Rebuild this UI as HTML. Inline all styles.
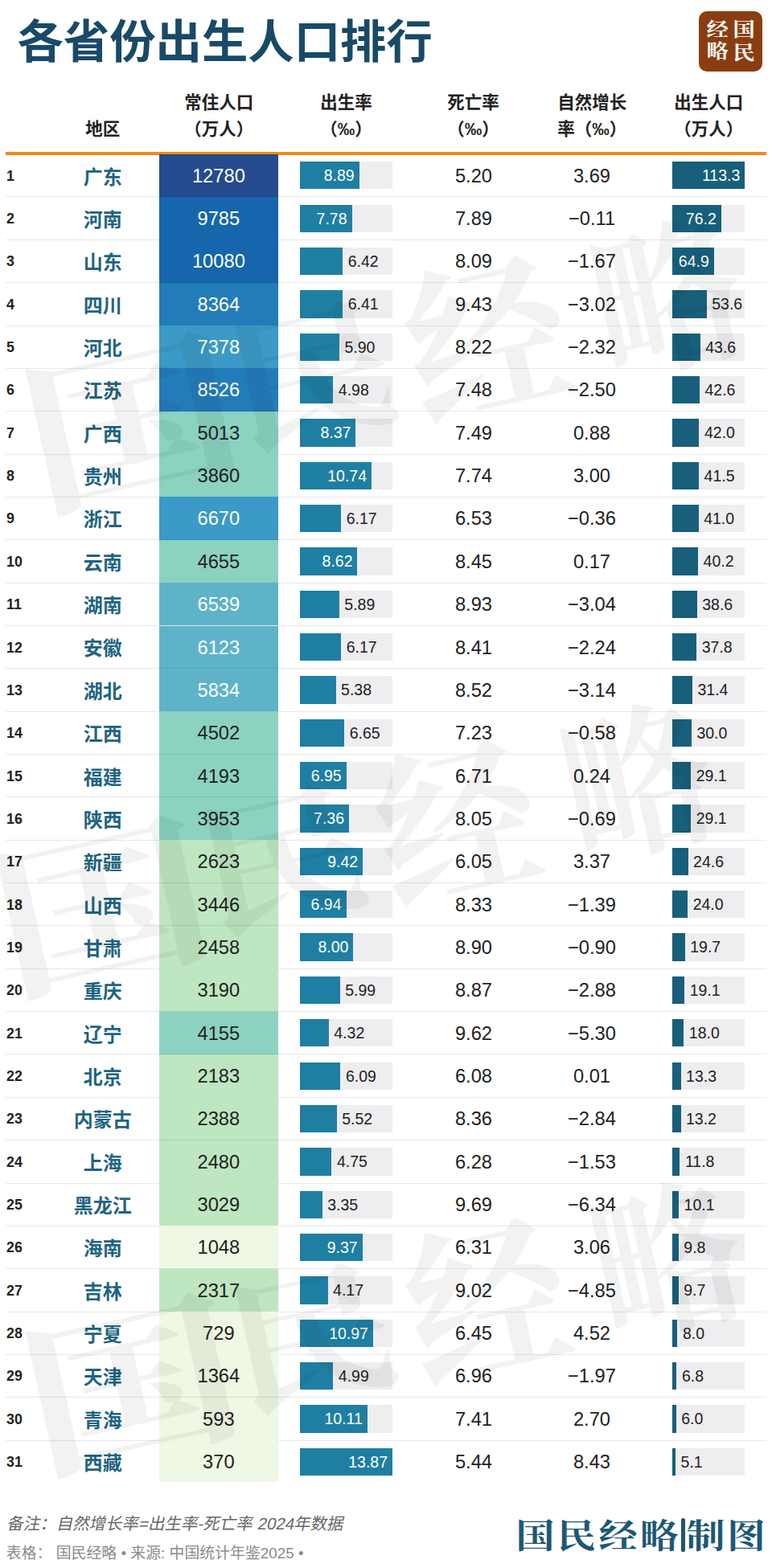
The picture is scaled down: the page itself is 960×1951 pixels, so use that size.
<!DOCTYPE html>
<html lang="zh-CN"><head><meta charset="utf-8"><title>各省份出生人口排行</title>
<style>
html,body{margin:0;padding:0}
body{width:960px;height:1951px;position:relative;overflow:hidden;background:#fff;font-family:"Liberation Sans",sans-serif;color:#222}
.t{position:absolute;overflow:visible;pointer-events:none}
.t text{font-family:"Liberation Sans","Noto Sans CJK SC",sans-serif}
.rule{position:absolute;left:7px;top:189.2px;width:946px;height:3.5px;background:#f08a1c}
.row{position:absolute;left:0;width:960px;height:53.35px}
.pop{position:absolute;left:198.0px;width:147.75px;top:0;height:53.35px;line-height:54.75px;text-align:center;font-size:23.7px}
.sep{position:absolute;left:7px;width:946px;bottom:-0.5px;height:1px;background:rgba(0,0,0,.09)}
.rk{position:absolute;left:8px;top:1px;line-height:53.35px;font-size:17.8px;font-weight:700;color:#222}
.num{position:absolute;width:120px;top:0;line-height:54.75px;text-align:center;font-size:23.7px;color:#222}
.trk{position:absolute;top:9.53px;height:34.3px;background:#eeedef}
.f1,.f2{position:absolute;left:0;top:0;height:100%}
.f1{background:#1f7fa3}
.f2{background:#185f7b}
.lb{position:absolute;top:0;line-height:34.3px;font-size:19.5px;color:#222;white-space:nowrap}
.lb.in{color:#fff}
.logo{position:absolute;left:868.8px;top:13.8px;width:79px;height:75.6px;border-radius:10px;background:#8a3d10}
.wm{transform-origin:50% 50%}
</style></head>
<body>

<svg class="t" style="left:10.02px;top:10.22px;width:539.56px;height:80.36px;" viewBox="-200 -1080 9400 1400" role="img" aria-label="各省份出生人口排行"><title>各省份出生人口排行</title><text x="0" y="0" font-size="1000" font-weight="700" fill="#184a68">各省份出生人口排行</text></svg>
<svg class="t" style="left:101.70px;top:144.90px;width:51.60px;height:30.10px;" viewBox="-200 -1080 2400 1400" role="img" aria-label="地区"><title>地区</title><text x="0" y="0" font-size="1000" font-weight="700" fill="#222">地区</text></svg>
<svg class="t" style="left:224.70px;top:111.91px;width:94.60px;height:30.10px;" viewBox="-200 -1080 4400 1400" role="img" aria-label="常住人口"><title>常住人口</title><text x="0" y="0" font-size="1000" font-weight="700" fill="#222">常住人口</text></svg>
<svg class="t" style="left:224.70px;top:144.90px;width:94.60px;height:30.10px;" viewBox="-200 -1080 4400 1400" role="img" aria-label="（万人）"><title>（万人）</title><text x="0" y="0" font-size="1000" font-weight="700" fill="#222">（万人）</text></svg>
<svg class="t" style="left:394.45px;top:111.91px;width:73.10px;height:30.10px;" viewBox="-200 -1080 3400 1400" role="img" aria-label="出生率"><title>出生率</title><text x="0" y="0" font-size="1000" font-weight="700" fill="#222">出生率</text></svg>
<svg class="t" style="left:394.45px;top:144.90px;width:73.10px;height:30.10px;" viewBox="-200 -1080 3400 1400" role="img" aria-label="（‰）"><title>（‰）</title><text x="0" y="0" font-size="1000" font-weight="700" fill="#222">（‰）</text></svg>
<svg class="t" style="left:552.45px;top:111.91px;width:73.10px;height:30.10px;" viewBox="-200 -1080 3400 1400" role="img" aria-label="死亡率"><title>死亡率</title><text x="0" y="0" font-size="1000" font-weight="700" fill="#222">死亡率</text></svg>
<svg class="t" style="left:552.45px;top:144.90px;width:73.10px;height:30.10px;" viewBox="-200 -1080 3400 1400" role="img" aria-label="（‰）"><title>（‰）</title><text x="0" y="0" font-size="1000" font-weight="700" fill="#222">（‰）</text></svg>
<svg class="t" style="left:688.70px;top:111.91px;width:94.60px;height:30.10px;" viewBox="-200 -1080 4400 1400" role="img" aria-label="自然增长"><title>自然增长</title><text x="0" y="0" font-size="1000" font-weight="700" fill="#222">自然增长</text></svg>
<svg class="t" style="left:689.20px;top:144.90px;width:94.60px;height:30.10px;" viewBox="-200 -1080 4400 1400" role="img" aria-label="率（‰）"><title>率（‰）</title><text x="0" y="0" font-size="1000" font-weight="700" fill="#222">率（‰）</text></svg>
<svg class="t" style="left:833.70px;top:111.91px;width:94.60px;height:30.10px;" viewBox="-200 -1080 4400 1400" role="img" aria-label="出生人口"><title>出生人口</title><text x="0" y="0" font-size="1000" font-weight="700" fill="#222">出生人口</text></svg>
<svg class="t" style="left:833.70px;top:144.90px;width:94.60px;height:30.10px;" viewBox="-200 -1080 4400 1400" role="img" aria-label="（万人）"><title>（万人）</title><text x="0" y="0" font-size="1000" font-weight="700" fill="#222">（万人）</text></svg>
<div class="rule"></div>
<div class="row" style="top:191.65px">
<div class="pop" style="background:#254b8e;color:#fff">12780</div>
<div class="sep"></div>
<div class="rk">1</div>
<div class="num" style="left:529px">5.20</div>
<div class="num" style="left:676px">3.69</div>
<div class="trk" style="left:373px;width:115px"><div class="f1" style="width:73.71px"></div>
<span class="lb in" style="right:47.29px">8.89</span>
</div>
<div class="trk" style="left:836px;width:89.5px"><div class="f2" style="width:90.30px"></div>
<span class="lb in" style="right:5.20px">113.3</span>
</div>
</div>
<svg class="t" style="left:98.70px;top:202.61px;width:57.60px;height:33.60px;" viewBox="-200 -1080 2400 1400" role="img" aria-label="广东"><title>广东</title><text x="0" y="0" font-size="1000" font-weight="700" fill="#1f6482">广东</text></svg>
<div class="row" style="top:245.00px">
<div class="pop" style="background:#1666ae;color:#fff">9785</div>
<div class="sep"></div>
<div class="rk">2</div>
<div class="num" style="left:529px">7.89</div>
<div class="num" style="left:676px">−0.11</div>
<div class="trk" style="left:373px;width:115px"><div class="f1" style="width:64.51px"></div>
<span class="lb in" style="right:56.49px">7.78</span>
</div>
<div class="trk" style="left:836px;width:89.5px"><div class="f2" style="width:60.73px"></div>
<span class="lb in" style="right:34.77px">76.2</span>
</div>
</div>
<svg class="t" style="left:98.70px;top:255.95px;width:57.60px;height:33.60px;" viewBox="-200 -1080 2400 1400" role="img" aria-label="河南"><title>河南</title><text x="0" y="0" font-size="1000" font-weight="700" fill="#1f6482">河南</text></svg>
<div class="row" style="top:298.35px">
<div class="pop" style="background:#1666ae;color:#fff">10080</div>
<div class="sep"></div>
<div class="rk">3</div>
<div class="num" style="left:529px">8.09</div>
<div class="num" style="left:676px">−1.67</div>
<div class="trk" style="left:373px;width:115px"><div class="f1" style="width:53.23px"></div>
<span class="lb" style="left:59.73px">6.42</span>
</div>
<div class="trk" style="left:836px;width:89.5px"><div class="f2" style="width:51.73px"></div>
<span class="lb in" style="right:43.77px">64.9</span>
</div>
</div>
<svg class="t" style="left:98.70px;top:309.31px;width:57.60px;height:33.60px;" viewBox="-200 -1080 2400 1400" role="img" aria-label="山东"><title>山东</title><text x="0" y="0" font-size="1000" font-weight="700" fill="#1f6482">山东</text></svg>
<div class="row" style="top:351.70px">
<div class="pop" style="background:#237cba;color:#fff">8364</div>
<div class="sep"></div>
<div class="rk">4</div>
<div class="num" style="left:529px">9.43</div>
<div class="num" style="left:676px">−3.02</div>
<div class="trk" style="left:373px;width:115px"><div class="f1" style="width:53.15px"></div>
<span class="lb" style="left:59.65px">6.41</span>
</div>
<div class="trk" style="left:836px;width:89.5px"><div class="f2" style="width:42.72px"></div>
<span class="lb" style="left:49.22px">53.6</span>
</div>
</div>
<svg class="t" style="left:98.70px;top:362.66px;width:57.60px;height:33.60px;" viewBox="-200 -1080 2400 1400" role="img" aria-label="四川"><title>四川</title><text x="0" y="0" font-size="1000" font-weight="700" fill="#1f6482">四川</text></svg>
<div class="row" style="top:405.05px">
<div class="pop" style="background:#3b9ac7;color:#fff">7378</div>
<div class="sep"></div>
<div class="rk">5</div>
<div class="num" style="left:529px">8.22</div>
<div class="num" style="left:676px">−2.32</div>
<div class="trk" style="left:373px;width:115px"><div class="f1" style="width:48.92px"></div>
<span class="lb" style="left:55.42px">5.90</span>
</div>
<div class="trk" style="left:836px;width:89.5px"><div class="f2" style="width:34.75px"></div>
<span class="lb" style="left:41.25px">43.6</span>
</div>
</div>
<svg class="t" style="left:98.70px;top:416.00px;width:57.60px;height:33.60px;" viewBox="-200 -1080 2400 1400" role="img" aria-label="河北"><title>河北</title><text x="0" y="0" font-size="1000" font-weight="700" fill="#1f6482">河北</text></svg>
<div class="row" style="top:458.40px">
<div class="pop" style="background:#237cba;color:#fff">8526</div>
<div class="sep"></div>
<div class="rk">6</div>
<div class="num" style="left:529px">7.48</div>
<div class="num" style="left:676px">−2.50</div>
<div class="trk" style="left:373px;width:115px"><div class="f1" style="width:41.29px"></div>
<span class="lb" style="left:47.79px">4.98</span>
</div>
<div class="trk" style="left:836px;width:89.5px"><div class="f2" style="width:33.95px"></div>
<span class="lb" style="left:40.45px">42.6</span>
</div>
</div>
<svg class="t" style="left:98.70px;top:469.35px;width:57.60px;height:33.60px;" viewBox="-200 -1080 2400 1400" role="img" aria-label="江苏"><title>江苏</title><text x="0" y="0" font-size="1000" font-weight="700" fill="#1f6482">江苏</text></svg>
<div class="row" style="top:511.75px">
<div class="pop" style="background:#8bd2c1;color:#222">5013</div>
<div class="sep"></div>
<div class="rk">7</div>
<div class="num" style="left:529px">7.49</div>
<div class="num" style="left:676px">0.88</div>
<div class="trk" style="left:373px;width:115px"><div class="f1" style="width:69.40px"></div>
<span class="lb in" style="right:51.60px">8.37</span>
</div>
<div class="trk" style="left:836px;width:89.5px"><div class="f2" style="width:33.47px"></div>
<span class="lb" style="left:39.97px">42.0</span>
</div>
</div>
<svg class="t" style="left:98.70px;top:522.70px;width:57.60px;height:33.60px;" viewBox="-200 -1080 2400 1400" role="img" aria-label="广西"><title>广西</title><text x="0" y="0" font-size="1000" font-weight="700" fill="#1f6482">广西</text></svg>
<div class="row" style="top:565.10px">
<div class="pop" style="background:#8bd2c1;color:#222">3860</div>
<div class="sep"></div>
<div class="rk">8</div>
<div class="num" style="left:529px">7.74</div>
<div class="num" style="left:676px">3.00</div>
<div class="trk" style="left:373px;width:115px"><div class="f1" style="width:89.05px"></div>
<span class="lb in" style="right:31.95px">10.74</span>
</div>
<div class="trk" style="left:836px;width:89.5px"><div class="f2" style="width:33.08px"></div>
<span class="lb" style="left:39.58px">41.5</span>
</div>
</div>
<svg class="t" style="left:98.70px;top:576.05px;width:57.60px;height:33.60px;" viewBox="-200 -1080 2400 1400" role="img" aria-label="贵州"><title>贵州</title><text x="0" y="0" font-size="1000" font-weight="700" fill="#1f6482">贵州</text></svg>
<div class="row" style="top:618.45px">
<div class="pop" style="background:#3b9ac7;color:#fff">6670</div>
<div class="sep"></div>
<div class="rk">9</div>
<div class="num" style="left:529px">6.53</div>
<div class="num" style="left:676px">−0.36</div>
<div class="trk" style="left:373px;width:115px"><div class="f1" style="width:51.16px"></div>
<span class="lb" style="left:57.66px">6.17</span>
</div>
<div class="trk" style="left:836px;width:89.5px"><div class="f2" style="width:32.68px"></div>
<span class="lb" style="left:39.18px">41.0</span>
</div>
</div>
<svg class="t" style="left:98.70px;top:629.40px;width:57.60px;height:33.60px;" viewBox="-200 -1080 2400 1400" role="img" aria-label="浙江"><title>浙江</title><text x="0" y="0" font-size="1000" font-weight="700" fill="#1f6482">浙江</text></svg>
<div class="row" style="top:671.80px">
<div class="pop" style="background:#8bd2c1;color:#222">4655</div>
<div class="sep"></div>
<div class="rk">10</div>
<div class="num" style="left:529px">8.45</div>
<div class="num" style="left:676px">0.17</div>
<div class="trk" style="left:373px;width:115px"><div class="f1" style="width:71.47px"></div>
<span class="lb in" style="right:49.53px">8.62</span>
</div>
<div class="trk" style="left:836px;width:89.5px"><div class="f2" style="width:32.04px"></div>
<span class="lb" style="left:38.54px">40.2</span>
</div>
</div>
<svg class="t" style="left:98.70px;top:682.75px;width:57.60px;height:33.60px;" viewBox="-200 -1080 2400 1400" role="img" aria-label="云南"><title>云南</title><text x="0" y="0" font-size="1000" font-weight="700" fill="#1f6482">云南</text></svg>
<div class="row" style="top:725.15px">
<div class="pop" style="background:#5eb3c9;color:#fff">6539</div>
<div class="sep"></div>
<div class="rk">11</div>
<div class="num" style="left:529px">8.93</div>
<div class="num" style="left:676px">−3.04</div>
<div class="trk" style="left:373px;width:115px"><div class="f1" style="width:48.84px"></div>
<span class="lb" style="left:55.34px">5.89</span>
</div>
<div class="trk" style="left:836px;width:89.5px"><div class="f2" style="width:30.76px"></div>
<span class="lb" style="left:37.26px">38.6</span>
</div>
</div>
<svg class="t" style="left:98.70px;top:736.10px;width:57.60px;height:33.60px;" viewBox="-200 -1080 2400 1400" role="img" aria-label="湖南"><title>湖南</title><text x="0" y="0" font-size="1000" font-weight="700" fill="#1f6482">湖南</text></svg>
<div class="row" style="top:778.50px">
<div class="pop" style="background:#5eb3c9;color:#fff">6123</div>
<div class="sep"></div>
<div class="rk">12</div>
<div class="num" style="left:529px">8.41</div>
<div class="num" style="left:676px">−2.24</div>
<div class="trk" style="left:373px;width:115px"><div class="f1" style="width:51.16px"></div>
<span class="lb" style="left:57.66px">6.17</span>
</div>
<div class="trk" style="left:836px;width:89.5px"><div class="f2" style="width:30.13px"></div>
<span class="lb" style="left:36.63px">37.8</span>
</div>
</div>
<svg class="t" style="left:98.70px;top:789.45px;width:57.60px;height:33.60px;" viewBox="-200 -1080 2400 1400" role="img" aria-label="安徽"><title>安徽</title><text x="0" y="0" font-size="1000" font-weight="700" fill="#1f6482">安徽</text></svg>
<div class="row" style="top:831.85px">
<div class="pop" style="background:#5eb3c9;color:#fff">5834</div>
<div class="sep"></div>
<div class="rk">13</div>
<div class="num" style="left:529px">8.52</div>
<div class="num" style="left:676px">−3.14</div>
<div class="trk" style="left:373px;width:115px"><div class="f1" style="width:44.61px"></div>
<span class="lb" style="left:51.11px">5.38</span>
</div>
<div class="trk" style="left:836px;width:89.5px"><div class="f2" style="width:25.03px"></div>
<span class="lb" style="left:31.53px">31.4</span>
</div>
</div>
<svg class="t" style="left:98.70px;top:842.80px;width:57.60px;height:33.60px;" viewBox="-200 -1080 2400 1400" role="img" aria-label="湖北"><title>湖北</title><text x="0" y="0" font-size="1000" font-weight="700" fill="#1f6482">湖北</text></svg>
<div class="row" style="top:885.20px">
<div class="pop" style="background:#8bd2c1;color:#222">4502</div>
<div class="sep"></div>
<div class="rk">14</div>
<div class="num" style="left:529px">7.23</div>
<div class="num" style="left:676px">−0.58</div>
<div class="trk" style="left:373px;width:115px"><div class="f1" style="width:55.14px"></div>
<span class="lb" style="left:61.64px">6.65</span>
</div>
<div class="trk" style="left:836px;width:89.5px"><div class="f2" style="width:23.91px"></div>
<span class="lb" style="left:30.41px">30.0</span>
</div>
</div>
<svg class="t" style="left:98.70px;top:896.15px;width:57.60px;height:33.60px;" viewBox="-200 -1080 2400 1400" role="img" aria-label="江西"><title>江西</title><text x="0" y="0" font-size="1000" font-weight="700" fill="#1f6482">江西</text></svg>
<div class="row" style="top:938.55px">
<div class="pop" style="background:#8bd2c1;color:#222">4193</div>
<div class="sep"></div>
<div class="rk">15</div>
<div class="num" style="left:529px">6.71</div>
<div class="num" style="left:676px">0.24</div>
<div class="trk" style="left:373px;width:115px"><div class="f1" style="width:57.62px"></div>
<span class="lb in" style="right:63.38px">6.95</span>
</div>
<div class="trk" style="left:836px;width:89.5px"><div class="f2" style="width:23.19px"></div>
<span class="lb" style="left:29.69px">29.1</span>
</div>
</div>
<svg class="t" style="left:98.70px;top:949.50px;width:57.60px;height:33.60px;" viewBox="-200 -1080 2400 1400" role="img" aria-label="福建"><title>福建</title><text x="0" y="0" font-size="1000" font-weight="700" fill="#1f6482">福建</text></svg>
<div class="row" style="top:991.90px">
<div class="pop" style="background:#8bd2c1;color:#222">3953</div>
<div class="sep"></div>
<div class="rk">16</div>
<div class="num" style="left:529px">8.05</div>
<div class="num" style="left:676px">−0.69</div>
<div class="trk" style="left:373px;width:115px"><div class="f1" style="width:61.02px"></div>
<span class="lb in" style="right:59.98px">7.36</span>
</div>
<div class="trk" style="left:836px;width:89.5px"><div class="f2" style="width:23.19px"></div>
<span class="lb" style="left:29.69px">29.1</span>
</div>
</div>
<svg class="t" style="left:98.70px;top:1002.85px;width:57.60px;height:33.60px;" viewBox="-200 -1080 2400 1400" role="img" aria-label="陕西"><title>陕西</title><text x="0" y="0" font-size="1000" font-weight="700" fill="#1f6482">陕西</text></svg>
<div class="row" style="top:1045.25px">
<div class="pop" style="background:#bee6c0;color:#222">2623</div>
<div class="sep"></div>
<div class="rk">17</div>
<div class="num" style="left:529px">6.05</div>
<div class="num" style="left:676px">3.37</div>
<div class="trk" style="left:373px;width:115px"><div class="f1" style="width:78.10px"></div>
<span class="lb in" style="right:42.90px">9.42</span>
</div>
<div class="trk" style="left:836px;width:89.5px"><div class="f2" style="width:19.61px"></div>
<span class="lb" style="left:26.11px">24.6</span>
</div>
</div>
<svg class="t" style="left:98.70px;top:1056.20px;width:57.60px;height:33.60px;" viewBox="-200 -1080 2400 1400" role="img" aria-label="新疆"><title>新疆</title><text x="0" y="0" font-size="1000" font-weight="700" fill="#1f6482">新疆</text></svg>
<div class="row" style="top:1098.60px">
<div class="pop" style="background:#bee6c0;color:#222">3446</div>
<div class="sep"></div>
<div class="rk">18</div>
<div class="num" style="left:529px">8.33</div>
<div class="num" style="left:676px">−1.39</div>
<div class="trk" style="left:373px;width:115px"><div class="f1" style="width:57.54px"></div>
<span class="lb in" style="right:63.46px">6.94</span>
</div>
<div class="trk" style="left:836px;width:89.5px"><div class="f2" style="width:19.13px"></div>
<span class="lb" style="left:25.63px">24.0</span>
</div>
</div>
<svg class="t" style="left:98.70px;top:1109.56px;width:57.60px;height:33.60px;" viewBox="-200 -1080 2400 1400" role="img" aria-label="山西"><title>山西</title><text x="0" y="0" font-size="1000" font-weight="700" fill="#1f6482">山西</text></svg>
<div class="row" style="top:1151.95px">
<div class="pop" style="background:#bee6c0;color:#222">2458</div>
<div class="sep"></div>
<div class="rk">19</div>
<div class="num" style="left:529px">8.90</div>
<div class="num" style="left:676px">−0.90</div>
<div class="trk" style="left:373px;width:115px"><div class="f1" style="width:66.33px"></div>
<span class="lb in" style="right:54.67px">8.00</span>
</div>
<div class="trk" style="left:836px;width:89.5px"><div class="f2" style="width:15.70px"></div>
<span class="lb" style="left:22.20px">19.7</span>
</div>
</div>
<svg class="t" style="left:98.70px;top:1162.90px;width:57.60px;height:33.60px;" viewBox="-200 -1080 2400 1400" role="img" aria-label="甘肃"><title>甘肃</title><text x="0" y="0" font-size="1000" font-weight="700" fill="#1f6482">甘肃</text></svg>
<div class="row" style="top:1205.30px">
<div class="pop" style="background:#bee6c0;color:#222">3190</div>
<div class="sep"></div>
<div class="rk">20</div>
<div class="num" style="left:529px">8.87</div>
<div class="num" style="left:676px">−2.88</div>
<div class="trk" style="left:373px;width:115px"><div class="f1" style="width:49.66px"></div>
<span class="lb" style="left:56.16px">5.99</span>
</div>
<div class="trk" style="left:836px;width:89.5px"><div class="f2" style="width:15.22px"></div>
<span class="lb" style="left:21.72px">19.1</span>
</div>
</div>
<svg class="t" style="left:98.70px;top:1216.25px;width:57.60px;height:33.60px;" viewBox="-200 -1080 2400 1400" role="img" aria-label="重庆"><title>重庆</title><text x="0" y="0" font-size="1000" font-weight="700" fill="#1f6482">重庆</text></svg>
<div class="row" style="top:1258.65px">
<div class="pop" style="background:#8bd2c1;color:#222">4155</div>
<div class="sep"></div>
<div class="rk">21</div>
<div class="num" style="left:529px">9.62</div>
<div class="num" style="left:676px">−5.30</div>
<div class="trk" style="left:373px;width:115px"><div class="f1" style="width:35.82px"></div>
<span class="lb" style="left:42.32px">4.32</span>
</div>
<div class="trk" style="left:836px;width:89.5px"><div class="f2" style="width:14.35px"></div>
<span class="lb" style="left:20.85px">18.0</span>
</div>
</div>
<svg class="t" style="left:98.70px;top:1269.61px;width:57.60px;height:33.60px;" viewBox="-200 -1080 2400 1400" role="img" aria-label="辽宁"><title>辽宁</title><text x="0" y="0" font-size="1000" font-weight="700" fill="#1f6482">辽宁</text></svg>
<div class="row" style="top:1312.00px">
<div class="pop" style="background:#bee6c0;color:#222">2183</div>
<div class="sep"></div>
<div class="rk">22</div>
<div class="num" style="left:529px">6.08</div>
<div class="num" style="left:676px">0.01</div>
<div class="trk" style="left:373px;width:115px"><div class="f1" style="width:50.49px"></div>
<span class="lb" style="left:56.99px">6.09</span>
</div>
<div class="trk" style="left:836px;width:89.5px"><div class="f2" style="width:10.60px"></div>
<span class="lb" style="left:17.10px">13.3</span>
</div>
</div>
<svg class="t" style="left:98.70px;top:1322.96px;width:57.60px;height:33.60px;" viewBox="-200 -1080 2400 1400" role="img" aria-label="北京"><title>北京</title><text x="0" y="0" font-size="1000" font-weight="700" fill="#1f6482">北京</text></svg>
<div class="row" style="top:1365.35px">
<div class="pop" style="background:#bee6c0;color:#222">2388</div>
<div class="sep"></div>
<div class="rk">23</div>
<div class="num" style="left:529px">8.36</div>
<div class="num" style="left:676px">−2.84</div>
<div class="trk" style="left:373px;width:115px"><div class="f1" style="width:45.77px"></div>
<span class="lb" style="left:52.27px">5.52</span>
</div>
<div class="trk" style="left:836px;width:89.5px"><div class="f2" style="width:10.52px"></div>
<span class="lb" style="left:17.02px">13.2</span>
</div>
</div>
<svg class="t" style="left:86.70px;top:1376.31px;width:81.60px;height:33.60px;" viewBox="-200 -1080 3400 1400" role="img" aria-label="内蒙古"><title>内蒙古</title><text x="0" y="0" font-size="1000" font-weight="700" fill="#1f6482">内蒙古</text></svg>
<div class="row" style="top:1418.70px">
<div class="pop" style="background:#bee6c0;color:#222">2480</div>
<div class="sep"></div>
<div class="rk">24</div>
<div class="num" style="left:529px">6.28</div>
<div class="num" style="left:676px">−1.53</div>
<div class="trk" style="left:373px;width:115px"><div class="f1" style="width:39.38px"></div>
<span class="lb" style="left:45.88px">4.75</span>
</div>
<div class="trk" style="left:836px;width:89.5px"><div class="f2" style="width:9.40px"></div>
<span class="lb" style="left:15.90px">11.8</span>
</div>
</div>
<svg class="t" style="left:98.70px;top:1429.65px;width:57.60px;height:33.60px;" viewBox="-200 -1080 2400 1400" role="img" aria-label="上海"><title>上海</title><text x="0" y="0" font-size="1000" font-weight="700" fill="#1f6482">上海</text></svg>
<div class="row" style="top:1472.05px">
<div class="pop" style="background:#bee6c0;color:#222">3029</div>
<div class="sep"></div>
<div class="rk">25</div>
<div class="num" style="left:529px">9.69</div>
<div class="num" style="left:676px">−6.34</div>
<div class="trk" style="left:373px;width:115px"><div class="f1" style="width:27.78px"></div>
<span class="lb" style="left:34.28px">3.35</span>
</div>
<div class="trk" style="left:836px;width:89.5px"><div class="f2" style="width:8.05px"></div>
<span class="lb" style="left:14.55px">10.1</span>
</div>
</div>
<svg class="t" style="left:86.70px;top:1483.01px;width:81.60px;height:33.60px;" viewBox="-200 -1080 3400 1400" role="img" aria-label="黑龙江"><title>黑龙江</title><text x="0" y="0" font-size="1000" font-weight="700" fill="#1f6482">黑龙江</text></svg>
<div class="row" style="top:1525.40px">
<div class="pop" style="background:#eff8e4;color:#222">1048</div>
<div class="sep"></div>
<div class="rk">26</div>
<div class="num" style="left:529px">6.31</div>
<div class="num" style="left:676px">3.06</div>
<div class="trk" style="left:373px;width:115px"><div class="f1" style="width:77.69px"></div>
<span class="lb in" style="right:43.31px">9.37</span>
</div>
<div class="trk" style="left:836px;width:89.5px"><div class="f2" style="width:7.81px"></div>
<span class="lb" style="left:14.31px">9.8</span>
</div>
</div>
<svg class="t" style="left:98.70px;top:1536.36px;width:57.60px;height:33.60px;" viewBox="-200 -1080 2400 1400" role="img" aria-label="海南"><title>海南</title><text x="0" y="0" font-size="1000" font-weight="700" fill="#1f6482">海南</text></svg>
<div class="row" style="top:1578.75px">
<div class="pop" style="background:#bee6c0;color:#222">2317</div>
<div class="sep"></div>
<div class="rk">27</div>
<div class="num" style="left:529px">9.02</div>
<div class="num" style="left:676px">−4.85</div>
<div class="trk" style="left:373px;width:115px"><div class="f1" style="width:34.57px"></div>
<span class="lb" style="left:41.07px">4.17</span>
</div>
<div class="trk" style="left:836px;width:89.5px"><div class="f2" style="width:7.73px"></div>
<span class="lb" style="left:14.23px">9.7</span>
</div>
</div>
<svg class="t" style="left:98.70px;top:1589.71px;width:57.60px;height:33.60px;" viewBox="-200 -1080 2400 1400" role="img" aria-label="吉林"><title>吉林</title><text x="0" y="0" font-size="1000" font-weight="700" fill="#1f6482">吉林</text></svg>
<div class="row" style="top:1632.10px">
<div class="pop" style="background:#eff8e4;color:#222">729</div>
<div class="sep"></div>
<div class="rk">28</div>
<div class="num" style="left:529px">6.45</div>
<div class="num" style="left:676px">4.52</div>
<div class="trk" style="left:373px;width:115px"><div class="f1" style="width:90.96px"></div>
<span class="lb in" style="right:30.04px">10.97</span>
</div>
<div class="trk" style="left:836px;width:89.5px"><div class="f2" style="width:6.38px"></div>
<span class="lb" style="left:12.88px">8.0</span>
</div>
</div>
<svg class="t" style="left:98.70px;top:1643.06px;width:57.60px;height:33.60px;" viewBox="-200 -1080 2400 1400" role="img" aria-label="宁夏"><title>宁夏</title><text x="0" y="0" font-size="1000" font-weight="700" fill="#1f6482">宁夏</text></svg>
<div class="row" style="top:1685.45px">
<div class="pop" style="background:#eff8e4;color:#222">1364</div>
<div class="sep"></div>
<div class="rk">29</div>
<div class="num" style="left:529px">6.96</div>
<div class="num" style="left:676px">−1.97</div>
<div class="trk" style="left:373px;width:115px"><div class="f1" style="width:41.37px"></div>
<span class="lb" style="left:47.87px">4.99</span>
</div>
<div class="trk" style="left:836px;width:89.5px"><div class="f2" style="width:5.42px"></div>
<span class="lb" style="left:11.92px">6.8</span>
</div>
</div>
<svg class="t" style="left:98.70px;top:1696.40px;width:57.60px;height:33.60px;" viewBox="-200 -1080 2400 1400" role="img" aria-label="天津"><title>天津</title><text x="0" y="0" font-size="1000" font-weight="700" fill="#1f6482">天津</text></svg>
<div class="row" style="top:1738.80px">
<div class="pop" style="background:#eff8e4;color:#222">593</div>
<div class="sep"></div>
<div class="rk">30</div>
<div class="num" style="left:529px">7.41</div>
<div class="num" style="left:676px">2.70</div>
<div class="trk" style="left:373px;width:115px"><div class="f1" style="width:83.82px"></div>
<span class="lb in" style="right:37.18px">10.11</span>
</div>
<div class="trk" style="left:836px;width:89.5px"><div class="f2" style="width:4.78px"></div>
<span class="lb" style="left:11.28px">6.0</span>
</div>
</div>
<svg class="t" style="left:98.70px;top:1749.76px;width:57.60px;height:33.60px;" viewBox="-200 -1080 2400 1400" role="img" aria-label="青海"><title>青海</title><text x="0" y="0" font-size="1000" font-weight="700" fill="#1f6482">青海</text></svg>
<div class="row" style="top:1792.15px">
<div class="pop" style="background:#eff8e4;color:#222;height:51.9px">370</div>
<div class="rk">31</div>
<div class="num" style="left:529px">5.44</div>
<div class="num" style="left:676px">8.43</div>
<div class="trk" style="left:373px;width:115px"><div class="f1" style="width:115.00px"></div>
<span class="lb in" style="right:6.00px">13.87</span>
</div>
<div class="trk" style="left:836px;width:89.5px"><div class="f2" style="width:4.06px"></div>
<span class="lb" style="left:10.56px">5.1</span>
</div>
</div>
<svg class="t" style="left:98.70px;top:1803.11px;width:57.60px;height:33.60px;" viewBox="-200 -1080 2400 1400" role="img" aria-label="西藏"><title>西藏</title><text x="0" y="0" font-size="1000" font-weight="700" fill="#1f6482">西藏</text></svg>
<svg class="t" style="left:3.90px;top:1881.25px;width:426.43px;height:28.70px;" viewBox="-200 -1080 20802 1400" role="img" aria-label="备注：自然增长率=出生率-死亡率 2024年数据"><title>备注：自然增长率=出生率-死亡率 2024年数据</title><text x="0" y="0" font-size="1000" fill="#676767" transform="skewX(-12)">备注：自然增长率=出生率-死亡率 2024年数据</text></svg>
<svg class="t" style="left:3.72px;top:1919.37px;width:376.16px;height:26.46px;" viewBox="-200 -1080 19903 1400" role="img" aria-label="表格： 国民经略 • 来源: 中国统计年鉴2025 •"><title>表格： 国民经略 • 来源: 中国统计年鉴2025 •</title><text x="0" y="0" font-size="1000" fill="#8a8a8a" xml:space="preserve">表格： 国民经略 • 来源: 中国统计年鉴2025 •</text></svg>
<svg class="t" style="left:632.40px;top:1880.94px;width:224.80px;height:58.80px;" viewBox="-200 -1080 4683 1400" preserveAspectRatio="none" role="img" aria-label="国民经略"><title>国民经略</title><text x="0" y="0" font-size="1000" font-weight="700" letter-spacing="71" fill="#1d5875" style="font-family:'Liberation Serif','Noto Serif CJK SC',serif">国民经略</text></svg>
<div style="position:absolute;left:846.8px;top:1889px;width:4.8px;height:41.5px;background:#1d5875;border-radius:2px"></div>
<svg class="t" style="left:843.70px;top:1880.94px;width:120.20px;height:58.80px;" viewBox="-200 -1080 2504 1400" preserveAspectRatio="none" role="img" aria-label="制图"><title>制图</title><text x="0" y="0" font-size="1000" font-weight="700" letter-spacing="52" fill="#1d5875" style="font-family:'Liberation Serif','Noto Serif CJK SC',serif">制图</text></svg>
<div class="logo"></div>
<svg class="t" style="left:873.05px;top:19.00px;width:38.30px;height:33.60px;" viewBox="-200 -1080 1400 1400" preserveAspectRatio="none" role="img" aria-label="经"><title>经</title><text x="0" y="0" font-size="1000" font-weight="700" fill="#fff" style="font-family:'Liberation Serif','Noto Serif CJK SC',serif">经</text></svg>
<svg class="t" style="left:905.85px;top:19.20px;width:38.30px;height:33.60px;" viewBox="-200 -1080 1400 1400" preserveAspectRatio="none" role="img" aria-label="国"><title>国</title><text x="0" y="0" font-size="1000" font-weight="700" fill="#fff" style="font-family:'Liberation Serif','Noto Serif CJK SC',serif">国</text></svg>
<svg class="t" style="left:873.35px;top:46.40px;width:38.30px;height:33.60px;" viewBox="-200 -1080 1400 1400" preserveAspectRatio="none" role="img" aria-label="略"><title>略</title><text x="0" y="0" font-size="1000" font-weight="700" fill="#fff" style="font-family:'Liberation Serif','Noto Serif CJK SC',serif">略</text></svg>
<svg class="t" style="left:905.85px;top:48.40px;width:38.30px;height:33.60px;" viewBox="-200 -1080 1400 1400" preserveAspectRatio="none" role="img" aria-label="民"><title>民</title><text x="0" y="0" font-size="1000" font-weight="700" fill="#fff" style="font-family:'Liberation Serif','Noto Serif CJK SC',serif">民</text></svg>
<svg class="t wm" style="left:-2.3px;top:246.0px;width:1000px;height:400px;opacity:0.046;transform:rotate(-12.5deg)" viewBox="0 0 1000 400" role="img" aria-label="国民经略"><title>国民经略</title><g fill="#000" font-size="1000" font-weight="700" style="font-family:'Liberation Serif','Noto Serif CJK SC',serif"><text style="font-family:inherit" transform="translate(19.4 282.5) scale(0.272 0.205)">国</text><text style="font-family:inherit" transform="translate(282.5 263.6) scale(0.210 0.180)">民</text><text style="font-family:inherit" transform="translate(509.5 277.9) scale(0.200 0.212)">经</text><text style="font-family:inherit" transform="translate(747.1 272.8) scale(0.185 0.200)">略</text></g></svg>
<svg class="t wm" style="left:-38.6px;top:848.3px;width:1000px;height:400px;opacity:0.046;transform:rotate(-12.5deg)" viewBox="0 0 1000 400" role="img" aria-label="国民经略"><title>国民经略</title><g fill="#000" font-size="1000" font-weight="700" style="font-family:'Liberation Serif','Noto Serif CJK SC',serif"><text style="font-family:inherit" transform="translate(19.4 282.5) scale(0.272 0.205)">国</text><text style="font-family:inherit" transform="translate(282.5 263.6) scale(0.210 0.180)">民</text><text style="font-family:inherit" transform="translate(509.5 277.9) scale(0.200 0.212)">经</text><text style="font-family:inherit" transform="translate(747.1 272.8) scale(0.185 0.200)">略</text></g></svg>
<svg class="t wm" style="left:-2.0px;top:1443.0px;width:1000px;height:400px;opacity:0.046;transform:rotate(-12.5deg)" viewBox="0 0 1000 400" role="img" aria-label="国民经略"><title>国民经略</title><g fill="#000" font-size="1000" font-weight="700" style="font-family:'Liberation Serif','Noto Serif CJK SC',serif"><text style="font-family:inherit" transform="translate(19.4 282.5) scale(0.272 0.205)">国</text><text style="font-family:inherit" transform="translate(282.5 263.6) scale(0.210 0.180)">民</text><text style="font-family:inherit" transform="translate(509.5 277.9) scale(0.200 0.212)">经</text><text style="font-family:inherit" transform="translate(747.1 272.8) scale(0.185 0.200)">略</text></g></svg>
</body></html>
